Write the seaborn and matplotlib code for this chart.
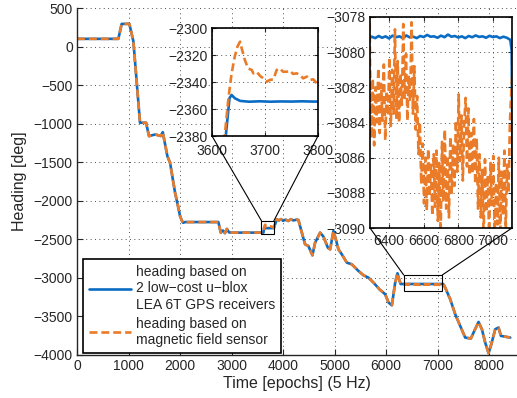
import numpy as np
import pandas as pd
import matplotlib
matplotlib.use("Agg")
import matplotlib.pyplot as plt
import seaborn as sns
from matplotlib.patches import Rectangle, ConnectionPatch

# ---------------- data ----------------
# common track (both sensors agree at full scale)
track_a_t = [0, 802, 867, 1016, 1094, 1223, 1340, 1398, 1460, 1520, 1625, 1664, 1754, 1806,
             1903, 1960, 2000, 2033, 2060, 2100, 2744, 2790, 2830, 2870, 2910, 2950, 3000, 3618]
track_a_h = [100, 100, 294, 294, 69, -988, -988, -1162, -1150, -1140, -1160, -1110, -1421, -1507,
             -1895, -2068, -2198, -2255, -2285, -2276, -2276, -2413, -2385, -2420, -2365, -2410, -2413, -2413]

track_b_t = [3820, 3877, 3920, 3960, 4000, 4050, 4100, 4150, 4200, 4266, 4298, 4363, 4427, 4491,
             4569, 4621, 4718, 4783, 4868, 4913, 4977, 5023, 5074, 5139, 5236, 5333, 5462, 5560,
             5657, 5754, 5870, 5981, 6046, 6111, 6175, 6220, 6260]
track_b_h = [-2354, -2241, -2255, -2238, -2260, -2245, -2262, -2240, -2255, -2245, -2250, -2413, -2565, -2587,
             -2707, -2543, -2413, -2465, -2608, -2630, -2392, -2500, -2630, -2694, -2802, -2824, -2910, -2966,
             -2997, -3061, -3148, -3212, -3320, -3355, -3061, -2940, -3040]

track_c_t = [7146, 7243, 7340, 7437, 7534, 7644, 7696, 7793, 7858, 7922, 7987, 8032, 8117, 8181, 8227, 8408]
track_c_h = [-3126, -3277, -3471, -3623, -3774, -3786, -3709, -3571, -3666, -3838, -3975, -3882, -3666, -3644,
             -3752, -3774]

# zoom 1 detail (3600-3800)
gps1_t = [3626, 3633, 3637, 3643, 3653, 3670, 3690, 3710, 3730, 3750, 3770, 3790, 3800]
gps1_h = [-2380, -2352, -2349.6, -2352, -2354, -2354.6, -2354.3, -2354.6, -2354.4, -2354.5, -2354.3, -2354.5, -2354.5]

mag1_t = [3624, 3631, 3637, 3643, 3648, 3653, 3656, 3662, 3668, 3675, 3678, 3684, 3691, 3697, 3703,
          3709, 3716, 3722, 3728, 3734, 3741, 3747, 3753, 3760, 3766, 3772, 3779, 3785, 3791, 3798]
mag1_h = [-2380, -2352, -2333.6, -2321, -2313.8, -2310.1, -2315, -2323.7, -2329.9, -2331.1, -2333.6,
          -2332.4, -2335.6, -2337.3, -2339.8, -2338.5, -2338, -2331.1, -2329.9, -2332.4, -2332.4,
          -2331.6, -2334, -2333.6, -2334.8, -2337.3, -2336, -2338.5, -2338, -2341]

# zoom 2 detail (6300-7100)
gps2_t0, gps2_step = 6280, 20
gps2_h = [-3079.25, -3079.12, -3079.2, -3079.08, -3079.18, -3079.1, -3079.22, -3079.06, -3079.15, -3079.1,
          -3079.2, -3079.05, -3079.16, -3079.12, -3079.2, -3079.08, -3079.14, -3079.02, -3079.12, -3079.1,
          -3079.18, -3079.06, -3079.15, -3079.0, -3079.12, -3079.08, -3079.17, -3079.1, -3079.2, -3079.08,
          -3079.15, -3079.05, -3079.13, -3079.1, -3079.18, -3079.07, -3079.14, -3079.1, -3079.2, -3079.12,
          -3079.18, -3079.3, -3079.9]

mag2_t0, mag2_step = 6290, 8
mag2_h = [-3080.6, -3084.9, -3081.5, -3085.3, -3082.0, -3084.0, -3080.9, -3084.6, -3081.8, -3083.9,
          -3080.7, -3085.0, -3082.2, -3083.6,
          -3080.3, -3084.2, -3081.0, -3083.5, -3078.7, -3083.8, -3080.5, -3084.0, -3081.2, -3083.0,
          -3078.4, -3082.6, -3080.1, -3083.9, -3081.4, -3082.8, -3078.3, -3083.5, -3080.8, -3084.4,
          -3082.5, -3085.8, -3084.0, -3087.5, -3085.2, -3088.6, -3086.0, -3089.0, -3085.5, -3088.2,
          -3086.4, -3089.3, -3085.8,
          -3088.8, -3085.6, -3089.6, -3086.3, -3090.3, -3085.1, -3088.5, -3084.4, -3088.9, -3085.9,
          -3089.4, -3084.8, -3088.0, -3085.2,
          -3087.6, -3083.9, -3086.8, -3082.4, -3086.2, -3083.6, -3087.3, -3084.1, -3082.6, -3086.5,
          -3083.2, -3087.0, -3084.6, -3086.9, -3083.8, -3087.5, -3084.9,
          -3088.9, -3085.8, -3089.4, -3086.7, -3090.4, -3086.1, -3089.1, -3087.0, -3090.6, -3086.3,
          -3088.7, -3085.9, -3090.2, -3087.4, -3089.8, -3086.0, -3090.5, -3086.8, -3089.3, -3085.6,
          -3090.1,
          -3086.4, -3088.0, -3084.0, -3082.2, -3080.8]

label_gps = "heading based on\n2 low\u2212cost u\u2212blox\nLEA 6T GPS receivers"
label_mag = "heading based on\nmagnetic field sensor"

BLUE = "#0B6CC4"
ORANGE = "#EA7B28"

# ---------------- assemble series ----------------
gps2_t = list(gps2_t0 + gps2_step * np.arange(len(gps2_h) - 1)) + [7108]
mag2_t = list(mag2_t0 + mag2_step * np.arange(len(mag2_h)))

gps_t = track_a_t + gps1_t + track_b_t + gps2_t + track_c_t
gps_h = track_a_h + gps1_h + track_b_h + gps2_h + track_c_h
mag_t = track_a_t + mag1_t + track_b_t + mag2_t + track_c_t
mag_h = track_a_h + mag1_h + track_b_h + mag2_h + track_c_h

df_gps = pd.DataFrame({"t": np.array(gps_t, float), "h": np.array(gps_h, float)})
df_mag = pd.DataFrame({"t": np.array(mag_t, float), "h": np.array(mag_h, float)})

# ---------------- style ----------------
sns.set_style("ticks")
plt.rcParams['font.family'] = ['Liberation Sans', 'DejaVu Sans']
plt.rcParams['axes.unicode_minus'] = True

W, H = 517, 398
fig = plt.figure(figsize=(W / 100, H / 100), dpi=100)

def fx(px):
    return px / W

def fy(py):
    return 1 - py / H

GRID = dict(color="0.3", linestyle=(0, (1, 3.5)), linewidth=0.7)
DASH = (0, (3.0, 1.5))


def draw(axx, lw):
    sns.lineplot(data=df_gps, x="t", y="h", ax=axx, color=BLUE, linewidth=lw,
                 estimator=None, sort=False, label=label_gps, legend=False)
    sns.lineplot(data=df_mag, x="t", y="h", ax=axx, color=ORANGE, linewidth=lw,
                 linestyle=DASH, estimator=None, sort=False, label=label_mag, legend=False)


# main axes
ax = fig.add_axes([fx(77), fy(355), fx(516) - fx(77), fy(8) - fy(355)])
draw(ax, 1.9)
ax.set_xlim(0, 8520)
ax.set_ylim(-4000, 500)
ax.set_xticks(np.arange(0, 8001, 1000))
ax.set_yticks(np.arange(-4000, 501, 500))
ax.grid(True, **GRID)
ax.set_axisbelow(True)
for s in ["top", "right"]:
    ax.spines[s].set_visible(False)
for s in ["left", "bottom"]:
    ax.spines[s].set_linewidth(1.0)
ax.tick_params(direction="in", length=4, width=0.8, labelsize=10, pad=3)
ax.set_xlabel("Time [epochs] (5 Hz)", fontsize=11.5, labelpad=2)
ax.set_ylabel("Heading [deg]", fontsize=11.5, labelpad=5)

# zoom rectangles in main axes
ax.add_patch(Rectangle((3580, -2425), 240, 165, fill=False, ec="k", lw=0.8, zorder=5))
ax.add_patch(Rectangle((6340, -3175), 750, 213, fill=False, ec="k", lw=0.8, zorder=5))

leg = ax.legend(loc="upper left", bbox_to_anchor=(fx(83), fy(259)), bbox_transform=fig.transFigure,
                borderaxespad=0, frameon=True, fancybox=False, edgecolor="k", framealpha=1,
                fontsize=10, handlelength=3.0, handletextpad=0.35, borderpad=0.45, labelspacing=0.35)
leg.get_frame().set_linewidth(1.2)

# inset 1
ins1 = fig.add_axes([fx(212), fy(136), fx(318) - fx(212), fy(28) - fy(136)])
draw(ins1, 1.9)
ins1.set_xlim(3600, 3800)
ins1.set_ylim(-2380, -2300)
ins1.set_xticks([3600, 3700, 3800])
ins1.set_yticks(np.arange(-2380, -2299, 20))

# inset 2
ins2 = fig.add_axes([fx(370), fy(228), fx(512) - fx(370), fy(17) - fy(228)])
draw(ins2, 1.9)
ins2.set_xlim(6290, 7110)
ins2.set_ylim(-3090, -3078)
ins2.set_xticks(np.arange(6400, 7001, 200))
ins2.set_yticks(np.arange(-3090, -3077, 2))

for a in (ins1, ins2):
    a.set_facecolor("white")
    a.grid(True, **GRID)
    a.set_axisbelow(True)
    a.set_xlabel("")
    a.set_ylabel("")
    for s in a.spines.values():
        s.set_linewidth(1.2)
        s.set_color("k")
    a.tick_params(direction="in", length=3, width=0.8, labelsize=10, pad=3,
                  top=True, right=True)
ins1.tick_params(axis="x", pad=5.5)
ins2.tick_params(axis="x", pad=4)

# connector lines
for ins, (x0, x1, ytop) in ((ins1, (3580, 3820, -2260)), (ins2, (6340, 7090, -2962))):
    for axc, xd in ((0, x0), (1, x1)):
        cp = ConnectionPatch(xyA=(axc, 0), coordsA=ins.transAxes, xyB=(xd, ytop), coordsB=ax.transData,
                             color="k", lw=0.8)
        fig.add_artist(cp)

fig.savefig("out.png", dpi=100)
